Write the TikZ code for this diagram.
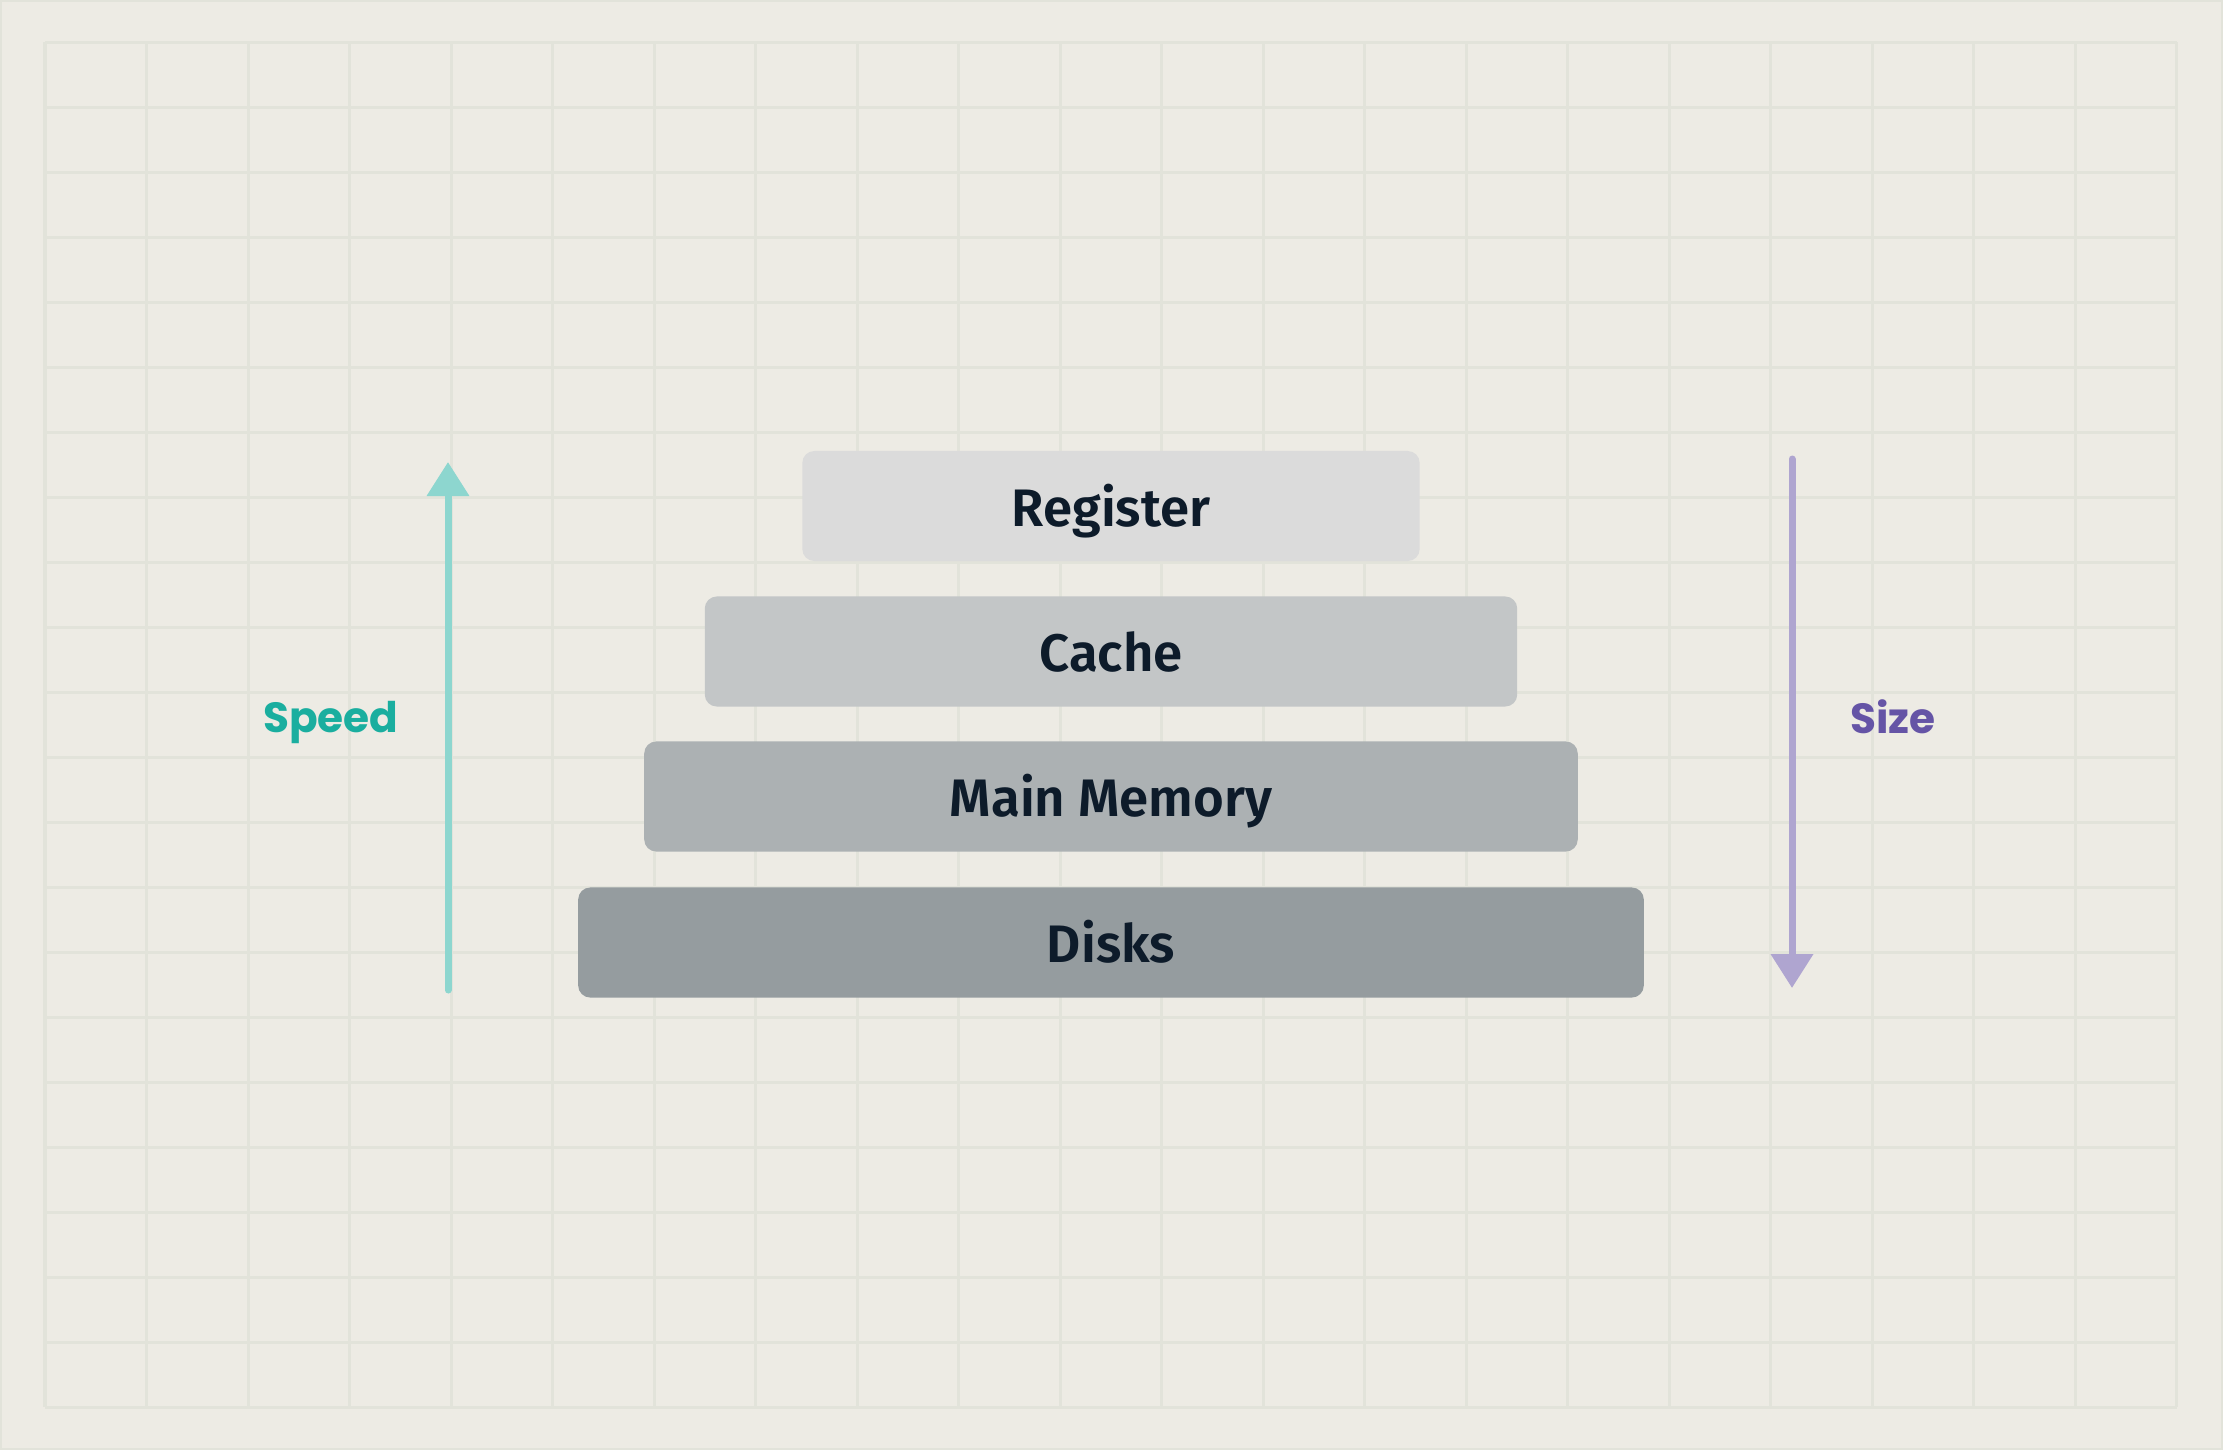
\documentclass[tikz,border=0pt]{standalone}
\usepackage{fontspec}
\setmainfont{Fira Sans}
\newfontfamily\boxfont{Fira Sans SemiBold}
\newfontfamily\tagfont{Poppins}
\usetikzlibrary{arrows.meta}

\definecolor{paper}{HTML}{EDEBE4}
\definecolor{gridcol}{HTML}{E2E3DA}
\definecolor{ink}{HTML}{0D1B2A}
\definecolor{regfill}{HTML}{DBDBDB}
\definecolor{cachefill}{HTML}{C3C6C7}
\definecolor{memfill}{HTML}{ACB1B3}
\definecolor{diskfill}{HTML}{959C9F}
\definecolor{speedtext}{HTML}{1AAE9F}
\definecolor{speedline}{HTML}{8DD6CF}
\definecolor{sizetext}{HTML}{6554A6}
\definecolor{sizeline}{HTML}{AFA5D0}

\begin{document}
\begin{tikzpicture}[x=0.01cm, y=-0.01cm,
  gridline/.style={draw=gridcol, line width=0.03cm},
  level/.style={rectangle, rounded corners=0.12cm, inner sep=0pt,
    minimum height=1.1cm, text height=0.55cm, text depth=0.15cm, text=ink,
    font=\boxfont\fontsize{15}{18}\selectfont},
  axis/.style={line width=0.07cm, line cap=round,
    -{Triangle[width=0.41cm, length=0.34cm]}},
  axislabel/.style={font=\tagfont\fontsize{12}{14}\selectfont\bfseries}]

% Paper and grid
\fill[paper] (0,0) rectangle (2223,1450);
\draw[gridcol, line width=0.02cm] (1,1) rectangle (2222,1449);
\def\cellw{101.52}
\def\cellh{65}
\foreach \i in {0,...,21}
  \draw[gridline] (45+\i*\cellw, 42) -- (45+\i*\cellw, 1407);
\foreach \j in {0,...,21}
  \draw[gridline] (45, 42+\j*\cellh) -- (2177, 42+\j*\cellh);

% Memory levels
\node[level, fill=regfill, minimum width=6.17cm] (reg) at (1111, 506) {Register};
\node[level, fill=cachefill, minimum width=8.12cm] (cache) at (1111, 651.5) {Cache};
\node[level, fill=memfill, minimum width=9.33cm] (mem) at (1111, 796.5) {Main Memory};
\node[level, fill=diskfill, minimum width=10.65cm] (disk) at (1111, 942.5) {Disks};

% Speed axis
\coordinate (speedlow) at (448, 990);
\coordinate (speedhigh) at (448, 462);
\draw[axis, speedline] (speedlow) -- (speedhigh);
\node[axislabel, text=speedtext] (speed) at (331, 722) {Speed};

% Size axis
\coordinate (sizelow) at (1792, 459);
\coordinate (sizehigh) at (1792, 988);
\draw[axis, sizeline] (sizelow) -- (sizehigh);
\node[axislabel, text=sizetext] (size) at (1893, 717) {Size};
\end{tikzpicture}
\end{document}
